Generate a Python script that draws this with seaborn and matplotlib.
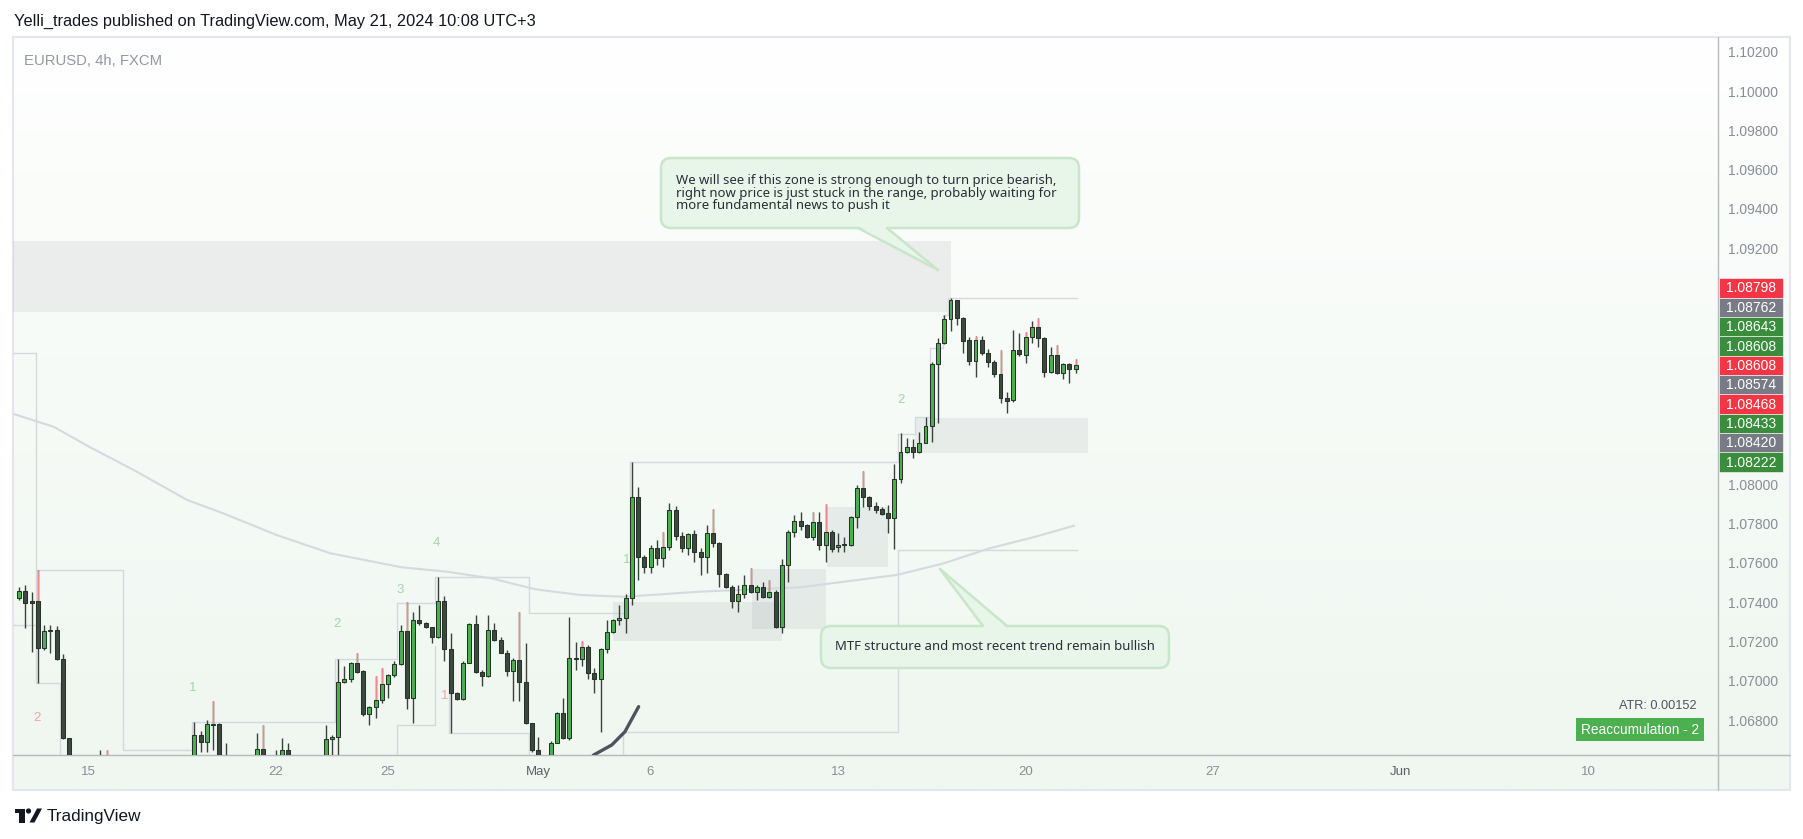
import matplotlib
matplotlib.use("Agg")
import numpy as np
import pandas as pd
import matplotlib.pyplot as plt
import seaborn as sns
from matplotlib.patches import Rectangle, FancyBboxPatch, Polygon, Circle
from matplotlib.colors import LinearSegmentedColormap

sns.set_theme(style="white")
plt.rcParams['font.family'] = ['Liberation Sans', 'DejaVu Sans']

W, H, DPI = 1803, 839, 100

# ---------------------------------------------------------------- data
bar_idx = list(range(-11, 159))   # 4h bars, 0 = Apr 15 00:00 (UTC+3)
opens = [
 1.07419, 1.07458, 1.07407, 1.07407, 1.07168, 1.07254, 1.07258, 1.07109, 1.06707, 1.06380,
 1.06450, 1.06400, 1.06460, 1.06500, 1.06480, 1.06400, 1.06250, 1.06220, 1.06100, 1.06150,
 1.06200, 1.06280, 1.06350, 1.06300, 1.06380, 1.06450, 1.06420, 1.06350, 1.06450, 1.06724,
 1.06690, 1.06778, 1.06778, 1.06500, 1.06400, 1.06280, 1.06350, 1.06420, 1.06500, 1.06651,
 1.06550, 1.06450, 1.06500, 1.06647, 1.06520, 1.06450, 1.06400, 1.06480, 1.06500, 1.06550,
 1.06701, 1.06715, 1.06991, 1.07007, 1.07088, 1.07051, 1.06829, 1.06864, 1.06901, 1.06981,
 1.07027, 1.07083, 1.07253, 1.06913, 1.07309, 1.07292, 1.07271, 1.07220, 1.07405, 1.07159,
 1.06939, 1.06905, 1.07091, 1.07288, 1.07042, 1.07025, 1.07258, 1.07207, 1.07142, 1.07051,
 1.07105, 1.06995, 1.06783, 1.06647, 1.06520, 1.06480, 1.06684, 1.06837, 1.06707, 1.07114,
 1.07110, 1.07173, 1.07037, 1.07007, 1.07159, 1.07246, 1.07309, 1.07317, 1.07419, 1.07933,
 1.07627, 1.07576, 1.07673, 1.07622, 1.07678, 1.07868, 1.07738, 1.07673, 1.07746, 1.07653,
 1.07631, 1.07749, 1.07699, 1.07543, 1.07475, 1.07407, 1.07439, 1.07487, 1.07453, 1.07475,
 1.07427, 1.07453, 1.07275, 1.07588, 1.07755, 1.07814, 1.07792, 1.07732, 1.07805, 1.07690,
 1.07755, 1.07678, 1.07695, 1.07690, 1.07831, 1.07978, 1.07933, 1.07890, 1.07872, 1.07851,
 1.07830, 1.08024, 1.08165, 1.08187, 1.08165, 1.08211, 1.08296, 1.08609, 1.08716, 1.08838,
 1.08937, 1.08843, 1.08733, 1.08628, 1.08733, 1.08665, 1.08623, 1.08560, 1.08436, 1.08428,
 1.08682, 1.08655, 1.08747, 1.08801, 1.08742, 1.08569, 1.08655, 1.08564, 1.08611, 1.08584]
highs = [
 1.07478, 1.07487, 1.07453, 1.07563, 1.07283, 1.07283, 1.07278, 1.07134, 1.06710, 1.06500,
 1.06520, 1.06500, 1.06550, 1.06647, 1.06647, 1.06480, 1.06300, 1.06280, 1.06200, 1.06250,
 1.06320, 1.06400, 1.06450, 1.06420, 1.06500, 1.06550, 1.06520, 1.06500, 1.06791, 1.06746,
 1.06800, 1.06898, 1.06783, 1.06681, 1.06500, 1.06400, 1.06480, 1.06550, 1.06732, 1.06774,
 1.06600, 1.06647, 1.06707, 1.06684, 1.06600, 1.06550, 1.06520, 1.06580, 1.06600, 1.06774,
 1.06724, 1.07109, 1.07075, 1.07097, 1.07142, 1.07054, 1.06871, 1.07024, 1.07063, 1.07034,
 1.07102, 1.07283, 1.07400, 1.07351, 1.07385, 1.07300, 1.07275, 1.07526, 1.07430, 1.07241,
 1.06944, 1.07102, 1.07295, 1.07334, 1.07054, 1.07334, 1.07292, 1.07224, 1.07156, 1.07114,
 1.07351, 1.07190, 1.06786, 1.06715, 1.06600, 1.06695, 1.06842, 1.06910, 1.07326, 1.07198,
 1.07203, 1.07181, 1.07063, 1.07164, 1.07309, 1.07314, 1.07385, 1.07439, 1.08114, 1.07983,
 1.07639, 1.07690, 1.07716, 1.07758, 1.07902, 1.07889, 1.07758, 1.07753, 1.07766, 1.07673,
 1.07792, 1.07872, 1.07707, 1.07549, 1.07487, 1.07487, 1.07537, 1.07571, 1.07487, 1.07503,
 1.07512, 1.07461, 1.07617, 1.07766, 1.07843, 1.07860, 1.07797, 1.07860, 1.07860, 1.07899,
 1.07766, 1.07749, 1.07732, 1.07839, 1.07995, 1.08068, 1.07939, 1.07911, 1.07885, 1.07894,
 1.08101, 1.08258, 1.08233, 1.08229, 1.08267, 1.08343, 1.08623, 1.08742, 1.08860, 1.08945,
 1.08937, 1.08852, 1.08747, 1.08753, 1.08753, 1.08686, 1.08631, 1.08682, 1.08470, 1.08784,
 1.08767, 1.08776, 1.08831, 1.08843, 1.08747, 1.08696, 1.08708, 1.08614, 1.08614, 1.08635]
lows = [
 1.07410, 1.07266, 1.07148, 1.06986, 1.07156, 1.07139, 1.07105, 1.06701, 1.06320, 1.06330,
 1.06360, 1.06320, 1.06400, 1.06430, 1.06350, 1.06220, 1.06150, 1.06050, 1.06010, 1.06080,
 1.06120, 1.06200, 1.06250, 1.06220, 1.06320, 1.06380, 1.06300, 1.06280, 1.06400, 1.06639,
 1.06639, 1.06647, 1.06450, 1.06320, 1.06200, 1.06100, 1.06250, 1.06350, 1.06450, 1.06480,
 1.06400, 1.06380, 1.06450, 1.06450, 1.06400, 1.06300, 1.06350, 1.06400, 1.06450, 1.06500,
 1.06550, 1.06600, 1.06986, 1.06995, 1.07041, 1.06822, 1.06774, 1.06808, 1.06885, 1.06913,
 1.07020, 1.07080, 1.06854, 1.06783, 1.07283, 1.07266, 1.07190, 1.07215, 1.07102, 1.06732,
 1.06901, 1.06901, 1.07088, 1.07037, 1.06975, 1.07020, 1.07203, 1.07139, 1.07024, 1.06898,
 1.06898, 1.06779, 1.06639, 1.06450, 1.06400, 1.06450, 1.06681, 1.06701, 1.06700, 1.07054,
 1.07075, 1.07007, 1.06936, 1.06740, 1.07139, 1.07244, 1.07283, 1.07241, 1.07385, 1.07512,
 1.07549, 1.07549, 1.07588, 1.07576, 1.07665, 1.07716, 1.07656, 1.07639, 1.07605, 1.07537,
 1.07549, 1.07681, 1.07478, 1.07470, 1.07368, 1.07351, 1.07419, 1.07444, 1.07410, 1.07419,
 1.07419, 1.07266, 1.07241, 1.07503, 1.07732, 1.07766, 1.07724, 1.07716, 1.07665, 1.07605,
 1.07656, 1.07656, 1.07656, 1.07685, 1.07775, 1.07885, 1.07868, 1.07851, 1.07843, 1.07753,
 1.07668, 1.08007, 1.08156, 1.08131, 1.08156, 1.08207, 1.08216, 1.08309, 1.08711, 1.08781,
 1.08809, 1.08665, 1.08606, 1.08547, 1.08657, 1.08597, 1.08543, 1.08411, 1.08360, 1.08419,
 1.08652, 1.08618, 1.08716, 1.08696, 1.08543, 1.08564, 1.08560, 1.08533, 1.08513, 1.08567]
closes = [
 1.07458, 1.07397, 1.07397, 1.07168, 1.07254, 1.07258, 1.07109, 1.06707, 1.06380, 1.06450,
 1.06400, 1.06460, 1.06500, 1.06480, 1.06400, 1.06250, 1.06220, 1.06100, 1.06150, 1.06200,
 1.06280, 1.06350, 1.06300, 1.06380, 1.06450, 1.06420, 1.06350, 1.06450, 1.06724, 1.06690,
 1.06778, 1.06774, 1.06500, 1.06400, 1.06280, 1.06350, 1.06420, 1.06500, 1.06651, 1.06550,
 1.06450, 1.06500, 1.06647, 1.06520, 1.06450, 1.06400, 1.06480, 1.06500, 1.06550, 1.06701,
 1.06715, 1.06991, 1.07007, 1.07088, 1.07046, 1.06829, 1.06864, 1.06901, 1.06981, 1.07027,
 1.07083, 1.07253, 1.06913, 1.07309, 1.07292, 1.07271, 1.07220, 1.07405, 1.07159, 1.06939,
 1.06905, 1.07091, 1.07288, 1.07042, 1.07025, 1.07258, 1.07207, 1.07142, 1.07051, 1.07105,
 1.06995, 1.06783, 1.06647, 1.06520, 1.06480, 1.06684, 1.06837, 1.06707, 1.07114, 1.07110,
 1.07173, 1.07037, 1.07007, 1.07159, 1.07246, 1.07309, 1.07317, 1.07419, 1.07933, 1.07627,
 1.07576, 1.07673, 1.07622, 1.07678, 1.07868, 1.07738, 1.07673, 1.07746, 1.07653, 1.07631,
 1.07749, 1.07699, 1.07543, 1.07475, 1.07407, 1.07439, 1.07487, 1.07453, 1.07475, 1.07427,
 1.07453, 1.07275, 1.07588, 1.07755, 1.07814, 1.07787, 1.07732, 1.07805, 1.07690, 1.07755,
 1.07670, 1.07688, 1.07692, 1.07831, 1.07978, 1.07933, 1.07890, 1.07868, 1.07848, 1.07830,
 1.08024, 1.08165, 1.08187, 1.08165, 1.08211, 1.08296, 1.08609, 1.08716, 1.08838, 1.08937,
 1.08843, 1.08730, 1.08628, 1.08733, 1.08665, 1.08623, 1.08560, 1.08436, 1.08424, 1.08682,
 1.08662, 1.08747, 1.08801, 1.08742, 1.08569, 1.08655, 1.08564, 1.08611, 1.08584, 1.08606]
red_wick_idx = [-8, 3, 20, 28, 43, 46, 47, 51, 69, 79, 92, 100, 106, 109, 116, 118, 124,
                142, 146, 150, 152, 155, 158]

ma_idx = [-11.7, -5.5, 0.2, 7.3, 15.9, 21.6, 30.2, 38.8, 50.2, 57.3, 64.5, 71.6, 78.8,
          85.9, 97.9, 113.9, 129.4, 136.8, 144.2, 151.4, 157.8]
ma_vals = [1.08355, 1.08292, 1.08190, 1.08072, 1.07919, 1.07852, 1.07741, 1.07648, 1.07577,
           1.07555, 1.07521, 1.07465, 1.07436, 1.07427, 1.07453, 1.07475, 1.07538, 1.07596,
           1.07673, 1.07731, 1.07789]

zone_x0 = [-12, 132.3, 118.2, 106.2, 84.05]
zone_x1 = [138.1, 160.0, 128.0, 118.1, 111.0]
zone_lo = [1.08877, 1.08158, 1.07577, 1.07261, 1.07203]
zone_hi = [1.09237, 1.08339, 1.07885, 1.07568, 1.07402]

struct_lines = [
    ([-12, -8.37, -8.37, -4.43, -4.43], [1.08666, 1.08666, 1.06987, 1.06987, 1.0650]),
    ([-12, -8.37], [1.07283, 1.07283]),
    ([-8.37, 5.57, 5.57, 16.64, 16.64, 39.52, 39.52, 49.44, 49.44, 55.52, 55.52, 70.56, 70.56, 85.92],
     [1.07563, 1.07563, 1.06647, 1.06647, 1.06791, 1.06791, 1.07109, 1.07109, 1.07397, 1.07397,
      1.07526, 1.07526, 1.07346, 1.07346]),
    ([49.44, 49.44, 55.52, 55.52], [1.0650, 1.06775, 1.06775, 1.07177]),
    ([57.7, 57.7, 70.56, 70.56], [1.07102, 1.06732, 1.06732, 1.0650]),
    ([85.57, 85.57, 129.6, 129.6, 158.2], [1.0650, 1.06737, 1.06737, 1.07665, 1.07665]),
    ([86.64, 86.64, 129.6, 129.6, 132.3, 132.3, 134.7, 134.7, 136.75, 136.75, 137.6, 137.6, 158.2],
     [1.07436, 1.08114, 1.08114, 1.08255, 1.08255, 1.08343, 1.08343, 1.08691, 1.08691, 1.08860,
      1.08860, 1.08945, 1.08945]),
]

arc_idx = [78.0, 80.9, 83.8, 85.9, 88.1]
arc_price = [1.0650, 1.06622, 1.06673, 1.06740, 1.06868]

count_text = ['2', '1', '2', '3', '4', '1', '1', '2']
count_idx = [-8.2, 16.8, 39.8, 49.9, 55.8, 57.0, 86.2, 130.0]
count_price = [1.06812, 1.06964, 1.07286, 1.07461, 1.07702, 1.06924, 1.07614, 1.08427]
count_bull = [False, True, True, True, True, False, True, True]

time_tick_idx = [0, 30, 48, 72, 90, 120, 150, 180, 210, 240]
time_tick_labels = ['15', '22', '25', 'May', '6', '13', '20', '27', 'Jun', '10']
price_ticks = [1.068, 1.070, 1.072, 1.074, 1.076, 1.078, 1.080,
               1.092, 1.094, 1.096, 1.098, 1.100, 1.102]

level_values = [1.08798, 1.08762, 1.08643, 1.08608, 1.08608, 1.08574, 1.08468, 1.08433, 1.08420, 1.08222]
level_kinds = ['red', 'gray', 'green', 'green', 'red', 'gray', 'red', 'green', 'gray', 'green']

title = "Yelli_trades published on TradingView.com, May 21, 2024 10:08 UTC+3"
symbol = "EURUSD, 4h, FXCM"
note_top = ["We will see if this zone is strong enough to turn price bearish,",
            "right now price is just stuck in the range, probably waiting for",
            "more fundamental news to push it"]
note_bottom = "MTF structure and most recent trend remain bullish"
atr_text = "ATR: 0.00152"
phase_text = "Reaccumulation - 2"

# ---------------------------------------------------------------- colours
GREEN = '#4caf50'
DARK = '#3b4a3d'
EDGE = '#27332a'
WICK = '#39433b'
LINE = '#d5d8de'
TXT = '#8a8d96'
KIND_COL = {'red': '#f23645', 'gray': '#787b86', 'green': '#3a8d3c'}
CF, CE = '#e8f5e9', '#c8e6c9'
NOTE_FONT = ['Noto Sans', 'DejaVu Sans']

# ---------------------------------------------------------------- figure
fig = plt.figure(figsize=(W / DPI, H / DPI), dpi=DPI)
fig.patch.set_facecolor('white')

# background panel (pixel coordinates)
bg = fig.add_axes([0, 0, 1, 1], zorder=0)
grad = np.linspace(0, 1, 256)[:, None] ** 0.8
cmap = LinearSegmentedColormap.from_list('bgg', ['#ffffff', '#eff7f0'])
bg.imshow(grad, cmap=cmap, extent=[13, 1790, 790, 37], aspect='auto', interpolation='bilinear')
bg.set_xlim(0, W); bg.set_ylim(H, 0); bg.axis('off')
bg.add_patch(Rectangle((13, 37), 1777, 753, fill=False, edgecolor='#e3e6ec', lw=1.5))
bg.plot([1718, 1718], [37, 790], color='#b6b9c0', lw=1)
bg.plot([13, 1790], [755, 755], color='#b6b9c0', lw=1)

# main chart axes
ax = fig.add_axes([13 / W, 1 - 755 / H, (1718 - 13) / W, (755 - 37) / H], zorder=1)
ax.patch.set_alpha(0)
for s in ax.spines.values():
    s.set_visible(False)

for x0, x1, lo, hi in zip(zone_x0, zone_x1, zone_lo, zone_hi):
    ax.add_patch(Rectangle((x0, lo), x1 - x0, hi - lo, facecolor='#9598a1', alpha=0.14,
                           lw=0, zorder=1))

for xs, ys in struct_lines:
    ax.plot(xs, ys, color=LINE, lw=1, zorder=1.5)

sns.lineplot(x=ma_idx, y=ma_vals, ax=ax, color='#d6d9e0', lw=1.5, sort=False,
             estimator=None, zorder=2)

df = pd.DataFrame(dict(idx=bar_idx, open=opens, high=highs, low=lows, close=closes))
up = df['close'] >= df['open']
body_lo = np.minimum(df['open'], df['close'])
body_h = (df['close'] - df['open']).abs().clip(lower=0.00003)
ax.vlines(df['idx'], df['low'], df['high'], color=WICK, lw=1, zorder=3)
rw = df[df['idx'].isin(red_wick_idx)]
ax.vlines(rw['idx'], np.maximum(rw['open'], rw['close']), rw['high'], color='#f08a8a',
          lw=1, zorder=3.1)
ax.bar(df['idx'][up], body_h[up], bottom=body_lo[up], width=0.64, color=GREEN,
       edgecolor=EDGE, lw=0.75, zorder=4)
ax.bar(df['idx'][~up], body_h[~up], bottom=body_lo[~up], width=0.64, color=DARK,
       edgecolor=EDGE, lw=0.75, zorder=4)

ax.plot(arc_idx, arc_price, color='#50535e', lw=2.4, solid_capstyle='round', zorder=5)

for t, i, p, b in zip(count_text, count_idx, count_price, count_bull):
    ax.text(i, p, t, color='#a5d6a7' if b else '#f5a3a3', fontsize=9.5, ha='center',
            va='center', zorder=2)

ax.set_xlim(-12, 260.8)
ax.set_ylim(1.06622, 1.10275)
ax.set_xticks(time_tick_idx)
ax.set_xticklabels(time_tick_labels)
ax.tick_params(axis='x', length=0, pad=8, labelsize=9.5, labelcolor=TXT)
for lab in ax.get_xticklabels():
    if lab.get_text() in ('May', 'Jun'):
        lab.set_color('#5d606b')
ax.yaxis.tick_right()
ax.set_yticks(price_ticks)
ax.set_yticklabels([f'{v:.5f}' for v in price_ticks])
ax.tick_params(axis='y', length=0, pad=7, labelsize=10, labelcolor=TXT)
ax.grid(False)

# overlay axes in pixel coordinates for annotations
ov = fig.add_axes([0, 0, 1, 1], zorder=3)
ov.set_xlim(0, W); ov.set_ylim(H, 0); ov.axis('off'); ov.patch.set_alpha(0)
renderer = fig.canvas.get_renderer()

def fit(t, width):
    bb = t.get_window_extent(renderer=renderer)
    t.set_fontsize(t.get_fontsize() * width / bb.width)
    return t

fit(ov.text(14, 21, title, ha='left', va='center', fontsize=11, color='#131722'), 520)
fit(ov.text(24, 61, symbol, ha='left', va='center', fontsize=11, color='#9598a1'), 138)

def callout(x0, y0, x1, y1, b0, b1, by, tip):
    ov.add_patch(FancyBboxPatch((x0, y0), x1 - x0, y1 - y0,
                                boxstyle='round,pad=0,rounding_size=10',
                                fc=CF, ec=CE, lw=1.8, zorder=4))
    inner = by - 2 if by == y1 else by + 2
    ov.add_patch(Polygon([(b0, inner), tip, (b1, inner)], closed=True, fc=CF, ec='none',
                         zorder=4.5))
    ov.plot([b0, tip[0]], [by, tip[1]], color=CE, lw=1.8, zorder=4.6)
    ov.plot([b1, tip[0]], [by, tip[1]], color=CE, lw=1.8, zorder=4.6)

callout(661, 158, 1079, 228, 858, 887, 228, (938, 270))
t0 = fit(ov.text(676, 180.5, note_top[0], ha='left', va='center', fontsize=9,
                 color='#2a2e39', family=NOTE_FONT, zorder=5), 380)
fs = t0.get_fontsize()
ov.text(676, 193, note_top[1], ha='left', va='center', fontsize=fs, color='#2a2e39',
        family=NOTE_FONT, zorder=5)
ov.text(676, 205.5, note_top[2], ha='left', va='center', fontsize=fs, color='#2a2e39',
        family=NOTE_FONT, zorder=5)

callout(821, 626, 1169, 668, 983, 1007, 626, (940, 569))
fit(ov.text(835, 647, note_bottom, ha='left', va='center', fontsize=9, color='#2a2e39',
            family=NOTE_FONT, zorder=5), 319)

# stacked price-level labels on the price scale
y0, hh = 278.3, 19.35
for k, (v, kind) in enumerate(zip(level_values, level_kinds)):
    yy = y0 + k * hh
    ov.add_patch(Rectangle((1718.5, yy), 64.5, hh, fc=KIND_COL[kind], ec='white', lw=0.4,
                           zorder=4))
    ov.text(1751, yy + hh / 2 + 0.5, f'{v:.5f}', ha='center', va='center', fontsize=10,
            color='white', zorder=5)

# ATR / phase labels
fit(ov.text(1697, 706, atr_text, ha='right', va='center', fontsize=9, color='#50535e'), 78)
ov.add_patch(Rectangle((1576, 718), 128, 23, fc='#4caf50', ec='none', zorder=4))
fit(ov.text(1640, 730, phase_text, ha='center', va='center', fontsize=9, color='white',
            zorder=5), 117)

# TradingView logo
LOGO = '#131722'
ov.add_patch(Rectangle((14.5, 808.5), 10, 4, fc=LOGO, ec='none'))
ov.add_patch(Rectangle((19, 808.5), 5.5, 14, fc=LOGO, ec='none'))
ov.add_patch(Circle((28.5, 811), 2.6, fc=LOGO, ec='none'))
ov.add_patch(Polygon([(29.5, 822.5), (34.5, 822.5), (42, 808.5), (37, 808.5)], fc=LOGO, ec='none'))
fit(ov.text(47, 816, "TradingView", ha='left', va='center', fontsize=12, color=LOGO), 95)

fig.savefig('out.png', dpi=DPI)
